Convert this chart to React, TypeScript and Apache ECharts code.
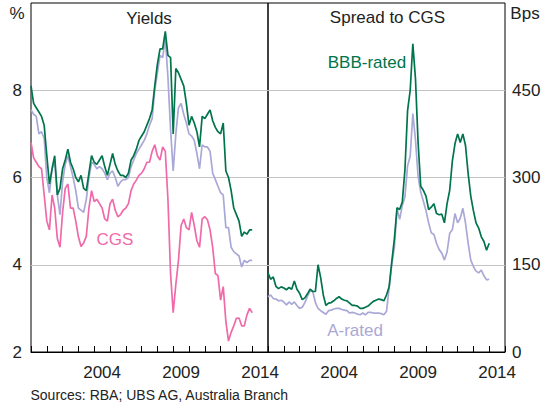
import React, { useEffect, useRef } from "react";
import * as echarts from "echarts";

// Two-monthly observations (Jan, Mar, May, Jul, Sep, Nov)
const dates = [
  "2000-01", "2000-03", "2000-05", "2000-07", "2000-09", "2000-11",
  "2001-01", "2001-03", "2001-05", "2001-07", "2001-09", "2001-11",
  "2002-01", "2002-03", "2002-05", "2002-07", "2002-09", "2002-11",
  "2003-01", "2003-03", "2003-05", "2003-07", "2003-09", "2003-11",
  "2004-01", "2004-03", "2004-05", "2004-07", "2004-09", "2004-11",
  "2005-01", "2005-03", "2005-05", "2005-07", "2005-09", "2005-11",
  "2006-01", "2006-03", "2006-05", "2006-07", "2006-09", "2006-11",
  "2007-01", "2007-03", "2007-05", "2007-07", "2007-09", "2007-11",
  "2008-01", "2008-03", "2008-05", "2008-07", "2008-09", "2008-11",
  "2009-01", "2009-03", "2009-05", "2009-07", "2009-09", "2009-11",
  "2010-01", "2010-03", "2010-05", "2010-07", "2010-09", "2010-11",
  "2011-01", "2011-03", "2011-05", "2011-07", "2011-09", "2011-11",
  "2012-01", "2012-03", "2012-05", "2012-07", "2012-09", "2012-11",
  "2013-01", "2013-03", "2013-05", "2013-07", "2013-09", "2013-11",
  "2014-01",
];

const yearCategories = [
  "2000", "2001", "2002", "2003", "2004", "2005", "2006", "2007",
  "2008", "2009", "2010", "2011", "2012", "2013", "2014",
];
const labeledYears = ["2004", "2009", "2014"];
const firstYear = 2000;
const lastYear = 2015;

// Yields, per cent
const bbbYield = [
  8.1, 7.7, 7.6, 7.5, 7.4, 7.2,
  6.5, 5.85, 6.2, 6.5, 5.6, 5.75,
  6.2, 6.4, 6.65, 6.35, 6.2, 6.0,
  5.9, 6.05, 5.75, 5.7, 6.1, 6.5,
  6.35, 6.3, 6.4, 6.5, 6.25, 6.05,
  6.3, 6.55, 6.3, 6.15, 6.05, 6.05,
  6.0, 6.1, 6.4, 6.5, 6.65, 6.85,
  6.95, 7.05, 7.2, 7.35, 7.55, 8.1,
  8.6, 8.95, 8.95, 9.35, 8.8, 8.75,
  7.0, 8.5, 8.4, 8.25, 8.1, 7.7,
  7.2, 7.4, 7.25, 7.05, 6.7, 7.4,
  7.35, 7.45, 7.55, 7.3, 7.15, 7.05,
  7.0, 7.25, 6.15, 6.0, 5.7, 5.3,
  5.15, 5.0, 4.65, 4.75, 4.7, 4.8,
  4.8,
];
const aYield = [
  7.55, 7.45, 7.4, 7.0, 7.05, 6.9,
  6.0, 5.65, 6.2, 6.35, 5.6, 5.15,
  5.9, 6.3, 6.5, 6.25, 6.0, 5.7,
  5.3, 5.25, 5.2, 5.5, 6.0, 6.35,
  6.3, 6.2, 6.25, 6.2, 6.1, 5.95,
  6.1, 6.15, 6.0, 5.8, 5.9, 5.95,
  5.95, 6.0, 6.25, 6.4, 6.55, 6.65,
  6.75, 6.85, 7.0, 7.2, 7.35, 8.0,
  8.4, 8.8, 8.75, 9.2, 8.3, 7.1,
  6.15, 7.0, 7.6, 7.7, 7.45, 7.25,
  7.0, 6.95, 6.85, 6.55, 6.2, 6.75,
  6.7, 6.7, 6.6, 6.1, 5.95, 5.8,
  5.65, 5.6, 4.85, 4.85, 4.4, 4.3,
  4.25, 4.2, 3.95, 4.1, 4.05, 4.1,
  4.1,
];
const cgsYield = [
  6.8, 6.45, 6.35, 6.25, 6.2, 5.6,
  5.0, 4.8, 5.6, 5.3, 4.6, 4.4,
  5.2, 5.75, 5.85, 5.3, 5.3, 5.0,
  4.64, 4.42, 4.5, 4.65, 5.3, 5.7,
  5.45, 5.5, 5.4, 5.3, 5.05, 5.0,
  5.4, 5.5, 5.25, 5.1, 5.15, 5.25,
  5.3, 5.4, 5.7, 5.85, 5.94, 6.05,
  6.1, 6.2, 6.35, 6.35, 6.6, 6.75,
  6.5, 6.4, 6.7, 6.6, 5.5, 3.8,
  2.9, 3.55, 4.1, 4.9, 5.05, 4.85,
  4.8, 5.2, 4.9, 4.55, 4.4, 5.05,
  5.1, 5.03, 4.8, 4.4, 3.8, 3.75,
  3.19, 3.5, 2.7, 2.25, 2.45, 2.6,
  2.77, 2.78, 2.6, 2.6, 2.85, 3.0,
  2.9,
];

// Spreads to CGS, basis points
const bbbSpread = [
  136, 125, 129, 113, 109, 112,
  110, 107, 111, 108, 122, 108,
  101, 90, 93, 100, 108, 104,
  104, 150, 128, 98, 80, 84,
  85, 88, 92, 95, 91, 89,
  88, 84, 80, 80, 79, 75,
  75, 77, 79, 83, 87, 89,
  91, 90, 88, 98, 112, 155,
  195, 248, 245, 258, 313, 415,
  450, 530, 470, 360, 285, 278,
  268, 245, 249, 255, 238, 236,
  237, 222, 255, 278, 328, 358,
  375, 360, 375, 355, 307, 268,
  243, 222, 213, 198, 190, 175,
  187,
];
const aSpread = [
  95, 98, 92, 91, 88, 89,
  86, 81, 86, 82, 86, 80,
  75, 77, 85, 96, 105, 104,
  85, 75, 71, 68, 65, 71,
  72, 74, 75, 75, 73, 72,
  71, 67, 68, 67, 65, 64,
  67, 64, 68, 68, 67, 67,
  67, 66, 64, 70, 110, 150,
  180, 247, 228, 252, 267, 320,
  337, 410, 365, 302, 275, 259,
  243, 222, 205, 202, 187, 176,
  170, 158, 172, 204, 210, 238,
  222, 230, 247, 222, 187, 158,
  147, 139, 136, 141, 131, 124,
  125,
];

const FONT = '"Liberation Sans", Arial, Helvetica, sans-serif';
const GREEN = "#00744a";
const LAVENDER = "#aaa8d6";
const PINK = "#f06aa9";
const TEXT = "#222222";
const GRIDLINE = "#c4c4c4";

// panel layout (pixels)
const PANEL_TOP = 3;
const PANEL_H = 349;
const PANEL_W = 237;
const PANEL_LEFTS = [31, 268];
const TICK_LEN = 6;

// "YYYY-MM" -> decimal year (start of month)
const toYear = (d: string) => {
  const [y, m] = d.split("-").map(Number);
  return y + (m - 1) / 12;
};

export default function App() {
  const ref = useRef<HTMLDivElement>(null);

  useEffect(() => {
    if (!ref.current) return;
    const chart = echarts.init(ref.current, null, { renderer: "svg" });
    const pair = (vals: number[]) => dates.map((d, i) => [toYear(d), vals[i]]);

    // data axis spanning whole years, with yearly ticks pointing into the plot
    const yearAxis = (gridIndex: number) => ({
      type: "value",
      gridIndex,
      position: "bottom",
      min: firstYear,
      max: lastYear,
      interval: 1,
      axisLine: { show: true, onZero: false, lineStyle: { color: "#000", width: 1 } },
      axisTick: { show: true, inside: true, length: TICK_LEN, lineStyle: { color: "#000", width: 1 } },
      axisLabel: { show: false },
      splitLine: { show: false },
    });
    // year labels centred in each year
    const labelAxis = (gridIndex: number) => ({
      type: "category",
      gridIndex,
      position: "bottom",
      data: yearCategories,
      boundaryGap: true,
      axisLine: { show: false },
      axisTick: { show: false },
      axisLabel: {
        interval: (_i: number, v: string) => labeledYears.includes(v),
        fontSize: 17,
        color: TEXT,
        fontFamily: FONT,
        margin: 12,
      },
      splitLine: { show: false },
    });
    const lineSeries = (
      name: string,
      vals: number[],
      color: string,
      axisIdx: number
    ) => ({
      name,
      type: "line",
      xAxisIndex: axisIdx,
      yAxisIndex: axisIdx,
      data: pair(vals),
      showSymbol: false,
      symbol: "none",
      lineStyle: { color, width: 1.7 },
      itemStyle: { color },
    });
    const txt = (
      text: string,
      x: number,
      y: number,
      color: string,
      size: number,
      align = "center"
    ) => ({
      type: "text",
      x,
      y,
      z: 10,
      style: {
        text,
        fill: color,
        fontSize: size,
        fontFamily: FONT,
        align,
        verticalAlign: "middle",
      },
    });

    const graphics = [
      txt("%", 17, 13, TEXT, 17),
      txt("Bps", 525, 13, TEXT, 17),
      txt("Yields", 149, 18.5, TEXT, 17),
      txt("Spread to CGS", 387.5, 17, TEXT, 17),
      txt("CGS", 115, 239, PINK, 17),
      txt("BBB-rated", 367, 62, GREEN, 17),
      txt("A-rated", 355, 330, LAVENDER, 17),
      txt("Sources: RBA; UBS AG, Australia Branch", 30.5, 395, TEXT, 14, "left"),
    ];

    chart.setOption({
      animation: false,
      backgroundColor: "#ffffff",
      grid: PANEL_LEFTS.map((left) => ({
        left,
        top: PANEL_TOP,
        width: PANEL_W,
        height: PANEL_H,
        show: true,
        borderColor: "#000",
        borderWidth: 1,
        backgroundColor: "transparent",
      })),
      xAxis: [yearAxis(0), yearAxis(1), labelAxis(0), labelAxis(1)],
      yAxis: [
        {
          type: "value",
          gridIndex: 0,
          position: "left",
          min: 2,
          max: 10,
          interval: 2,
          axisLine: { show: false },
          axisTick: { show: false },
          axisLabel: {
            fontSize: 17,
            color: TEXT,
            fontFamily: FONT,
            margin: 9,
            formatter: (v: number) => (v === 10 ? "" : String(v)),
          },
          splitLine: { show: true, showMinLine: false, showMaxLine: false, lineStyle: { color: GRIDLINE, width: 1 } },
        },
        {
          type: "value",
          gridIndex: 1,
          position: "right",
          min: 0,
          max: 600,
          interval: 150,
          axisLine: { show: false },
          axisTick: { show: false },
          axisLabel: {
            fontSize: 17,
            color: TEXT,
            fontFamily: FONT,
            margin: 7,
            formatter: (v: number) => (v === 600 ? "" : String(v)),
          },
          splitLine: { show: true, showMinLine: false, showMaxLine: false, lineStyle: { color: GRIDLINE, width: 1 } },
        },
      ],
      series: [
        lineSeries("A-rated yield", aYield, LAVENDER, 0),
        lineSeries("BBB-rated yield", bbbYield, GREEN, 0),
        lineSeries("CGS", cgsYield, PINK, 0),
        lineSeries("A-rated spread", aSpread, LAVENDER, 1),
        lineSeries("BBB-rated spread", bbbSpread, GREEN, 1),
      ],
      graphic: graphics,
    });

    return () => chart.dispose();
  }, []);

  return (
    <div
      ref={ref}
      style={{ position: "absolute", left: 0, top: 0, width: 552, height: 406 }}
    />
  );
}
